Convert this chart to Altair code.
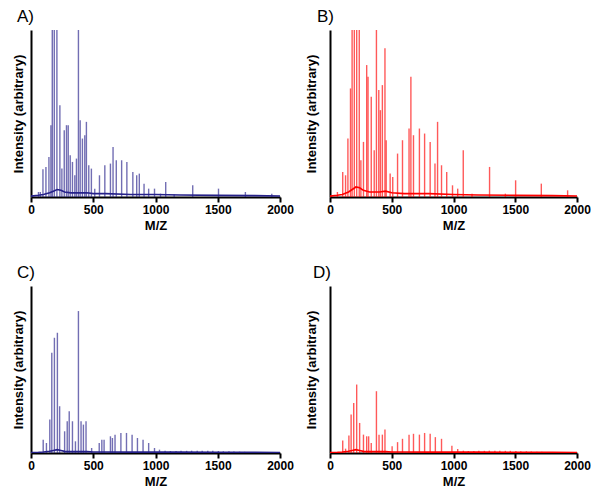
import altair as alt
import pandas as pd

# ---- Peak lists (m/z, relative intensity; >100 = off-scale / clipped) ----
a_mz = [60, 75, 96, 120, 144, 160, 171, 187, 208, 232, 248, 267, 285, 299, 315, 333, 352, 365,
        381, 395, 413, 432, 445, 464, 485, 512, 550, 593, 638, 659, 685, 728, 770, 818, 849,
        870, 908, 945, 992, 1040, 1082, 1150, 1299, 1506, 1722, 1934]
a_int = [3, 3, 16.6, 18, 24, 43, 110, 110, 110, 55, 17, 40, 43, 43, 25, 21, 13, 23,
         110, 46, 35, 37, 45, 19, 17, 5, 13, 19, 20, 30, 22, 22, 21, 15, 13,
         14, 8, 5, 5, 2, 9, 1.5, 7, 5, 3, 2]

b_mz = [60, 103, 126, 145, 166, 179, 197, 216, 237, 250, 271, 297, 308, 334, 358, 376, 395,
        408, 424, 445, 455, 487, 508, 547, 587, 640, 655, 676, 724, 766, 811, 850, 871, 903,
        945, 992, 1034, 1079, 1150, 1292, 1420, 1503, 1711, 1924]
b_int = [3, 15, 13, 35, 65, 110, 110, 110, 110, 22, 33, 79, 72, 60, 28, 110, 64,
         52, 67, 89, 34, 14, 12, 26, 34, 41, 72, 37, 41, 38, 33, 20, 45, 19,
         15, 7, 5, 28, 2, 18, 2, 10, 8, 4]

c_mz = [98, 124, 151, 167, 188, 212, 230, 270, 291, 307, 333, 357, 381, 402, 421, 442, 487,
        548, 569, 587, 638, 654, 675, 722, 767, 812, 855, 900, 945, 992, 1032, 1077,
        1120, 1165, 1205, 1250, 1290, 1335, 1375, 1420, 1460, 1505, 1545, 1590, 1630, 1675, 1715]
c_int = [8, 6, 20, 60, 69, 72, 28, 13, 19, 25, 19, 7, 85, 19, 17, 19, 3,
         6, 8, 8, 10, 9, 11, 12, 12, 11, 9, 8, 6, 3, 2, 1.4,
         1.2, 1.2, 1.3, 1.3, 1.4, 1.4, 1.4, 1.3, 1.3, 1.2, 1.0, 1.0, 0.9, 0.8, 0.7]

d_mz = [103, 126, 153, 171, 192, 216, 240, 271, 297, 313, 334, 376, 397, 424, 445, 503,
        547, 587, 640, 676, 724, 766, 811, 853, 903, 987, 1034,
        1080, 1120, 1165, 1205, 1250, 1290, 1335, 1375, 1420, 1460, 1505, 1545, 1590, 1630, 1675, 1715]
d_int = [7.5, 2.6, 10.5, 23, 30, 41, 18, 11, 10, 10, 6, 37, 11, 11, 14, 4,
         6.5, 8.5, 11, 11.5, 11, 12, 11.5, 9.5, 8.5, 4.4, 2.4,
         1.4, 1.2, 1.2, 1.3, 1.3, 1.4, 1.4, 1.4, 1.3, 1.3, 1.2, 1.0, 1.0, 0.9, 0.8, 0.7]

# ---- Baseline traces ----
base_mz = [0, 60, 100, 150, 180, 210, 240, 270, 320, 400, 450, 500, 600, 800, 1000, 1200, 1500, 1800, 2000]
a_base = [0.5, 1, 1.5, 2.5, 3.5, 4.5, 4, 3, 2.5, 2.5, 2.5, 2, 2, 1.5, 1.5, 1.2, 1, 0.8, 0.6]
b_base = [0.5, 1, 1.5, 3, 4.5, 6, 5.5, 4, 3, 3, 3.5, 2.5, 2, 2, 1.5, 1.2, 1, 0.8, 0.6]
c_base = [0.3, 0.4, 0.6, 1, 1.5, 2, 1.5, 1, 0.8, 0.8, 0.8, 0.6, 0.6, 0.5, 0.5, 0.5, 0.4, 0.4, 0.3]
d_base = [0.3, 0.4, 0.6, 1, 1.5, 2, 1.5, 1, 0.8, 0.8, 0.8, 0.6, 0.6, 0.5, 0.5, 0.5, 0.4, 0.4, 0.3]

panel_letters = ["A)", "B)", "C)", "D)"]
x_ticks = [0, 500, 1000, 1500, 2000]
BLUE = "#26218a"
RED = "#ff0000"
FONT = "Liberation Sans"


def panel(mz, inten, base, color, letter, width, letter_dx, ytitle_pad):
    df = pd.DataFrame({"mz": mz, "i": inten})
    bdf = pd.DataFrame({"mz": base_mz, "i": base})
    x = alt.X("mz:Q", scale=alt.Scale(domain=[0, 2000], nice=False),
              axis=alt.Axis(values=x_ticks, title="M/Z", labelFlush=False, grid=False,
                            tickSize=5, labelPadding=2, titlePadding=4, format="d"))
    y = alt.Y("i:Q", scale=alt.Scale(domain=[0, 100], nice=False),
              axis=alt.Axis(title="Intensity (arbitrary)", labels=False, ticks=False,
                            grid=False, titlePadding=ytitle_pad))
    rules = alt.Chart(df).mark_rule(color=color, strokeWidth=1.4, opacity=0.65, clip=True).encode(
        x=x, y=y, y2=alt.datum(0))
    line = alt.Chart(bdf).mark_line(color=color, strokeWidth=1.6, clip=True).encode(x=x, y=y)
    label = alt.Chart(pd.DataFrame({"t": [letter]})).mark_text(
        align="left", baseline="top", font=FONT, fontSize=17, color="black"
    ).encode(text="t:N", x=alt.value(letter_dx), y=alt.value(-21))
    return alt.layer(rules, line, label).properties(width=width, height=167)


A = panel(a_mz, a_int, a_base, BLUE, panel_letters[0], 249, -14, 6)
B = panel(b_mz, b_int, b_base, RED, panel_letters[1], 247, -13, 12)
C = panel(c_mz, c_int, c_base, BLUE, panel_letters[2], 249, -14, 6)
D = panel(d_mz, d_int, d_base, RED, panel_letters[3], 247, -17, 12)

row1 = alt.hconcat(A, B, spacing=11)
row2 = alt.hconcat(C, D, spacing=11)

chart = alt.vconcat(row1, row2, spacing=32).properties(
    padding={"left": 4, "top": 0, "right": 0, "bottom": 0}
).configure_view(
    stroke=None
).configure_axis(
    domainColor="black", domainWidth=2, tickColor="black", tickWidth=2,
    labelFont=FONT, labelFontSize=12, labelFontWeight="bold", labelColor="black",
    titleFont=FONT, titleFontSize=13, titleFontWeight="bold", titleColor="black"
)

chart.save("out.html", embed_options={"renderer": "svg", "actions": False})
